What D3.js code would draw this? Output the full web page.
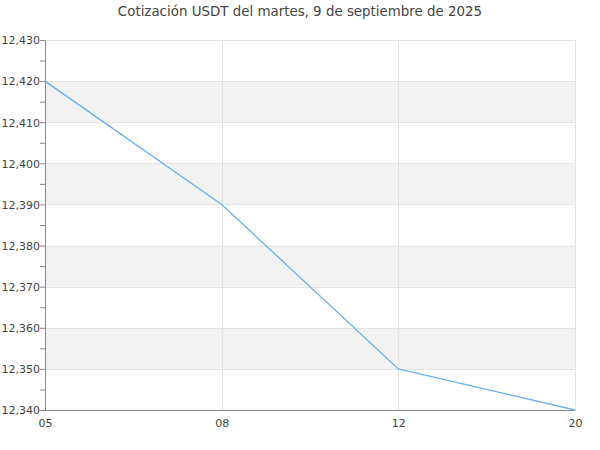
<!DOCTYPE html>
<html>
<head>
<meta charset="utf-8">
<script src="https://cdn.jsdelivr.net/npm/d3@7"></script>
<style>
  body { margin: 0; background: #fff; }
  text { font-family: "DejaVu Sans", sans-serif; fill: #444; }
</style>
</head>
<body>
<script>
var hours = ["05", "08", "12", "20"];
var prices = [12420, 12390, 12350, 12340];
var yTicks = [12340, 12350, 12360, 12370, 12380, 12390, 12400, 12410, 12420, 12430];
var title = "Cotización USDT del martes, 9 de septiembre de 2025";

var width = 600,
    height = 450;
var margin = {top: 40, right: 25, bottom: 40, left: 45};
var innerW = width - margin.left - margin.right,
    innerH = height - margin.top - margin.bottom;

var svg = d3.select("body")
    .append("svg")
    .attr("width", width)
    .attr("height", height);

svg.append("text")
    .attr("x", width / 2)
    .attr("y", 16)
    .attr("text-anchor", "middle")
    .attr("font-size", 13.4)
    .text(title);

var g = svg.append("g")
    .attr("transform", "translate(" + margin.left + "," + margin.top + ")");

var x = d3.scalePoint()
    .domain(hours)
    .range([0, innerW]);

var y = d3.scaleLinear()
    .domain([12340, 12430])
    .range([innerH, 0]);

// alternating bands
var bands = [];
for (var i = 0; i < yTicks.length - 1; i++) {
    if (i % 2 == 1) bands.push([yTicks[i], yTicks[i + 1]]);
}
g.selectAll("rect.band")
    .data(bands)
  .enter().append("rect")
    .attr("class", "band")
    .attr("x", 0)
    .attr("width", innerW)
    .attr("y", function(d) { return y(d[1]); })
    .attr("height", function(d) { return y(d[0]) - y(d[1]); })
    .attr("fill", "#f2f2f2");

// grid
g.selectAll("line.hgrid")
    .data(yTicks.slice(1))
  .enter().append("line")
    .attr("class", "hgrid")
    .attr("x1", 0)
    .attr("x2", innerW)
    .attr("y1", function(d) { return Math.round(y(d)) + 0.5; })
    .attr("y2", function(d) { return Math.round(y(d)) + 0.5; })
    .attr("stroke", "#e3e3e3");

g.selectAll("line.vgrid")
    .data(hours.slice(1))
  .enter().append("line")
    .attr("class", "vgrid")
    .attr("x1", function(d) { return Math.round(x(d)) + 0.5; })
    .attr("x2", function(d) { return Math.round(x(d)) + 0.5; })
    .attr("y1", 0)
    .attr("y2", innerH)
    .attr("stroke", "#e3e3e3");

// y axis with minor ticks
var minor = d3.range(12345, 12430, 10);
var yMinor = g.append("g")
    .call(d3.axisLeft(y).tickValues(minor).tickSize(5).tickFormat(""));
yMinor.select(".domain").remove();
yMinor.selectAll("line").attr("stroke", "#888");

var yAxis = g.append("g")
    .call(d3.axisLeft(y).tickValues(yTicks).tickSize(5).tickFormat(d3.format(",")));
yAxis.select(".domain").attr("stroke", "#888");
yAxis.selectAll("line").attr("stroke", "#888");
yAxis.selectAll("text")
    .attr("font-size", 11)
    .attr("x", -5)
    .attr("dy", "0.35em")
    .attr("fill", "#444")
    .style("font-family", "DejaVu Sans, sans-serif");

var xAxis = g.append("g")
    .attr("transform", "translate(0," + innerH + ")")
    .call(d3.axisBottom(x).tickSize(0).tickPadding(9));
xAxis.select(".domain").attr("stroke", "#888");
xAxis.selectAll("text")
    .attr("font-size", 11)
    .attr("fill", "#444")
    .style("font-family", "DejaVu Sans, sans-serif");

// price line
var line = d3.line()
    .x(function(d, i) { return x(hours[i]); })
    .y(function(d) { return y(d); });

g.append("path")
    .datum(prices)
    .attr("d", line)
    .attr("fill", "none")
    .attr("stroke", "#6aaef2")
    .attr("stroke-width", 1.3);
</script>
</body>
</html>
